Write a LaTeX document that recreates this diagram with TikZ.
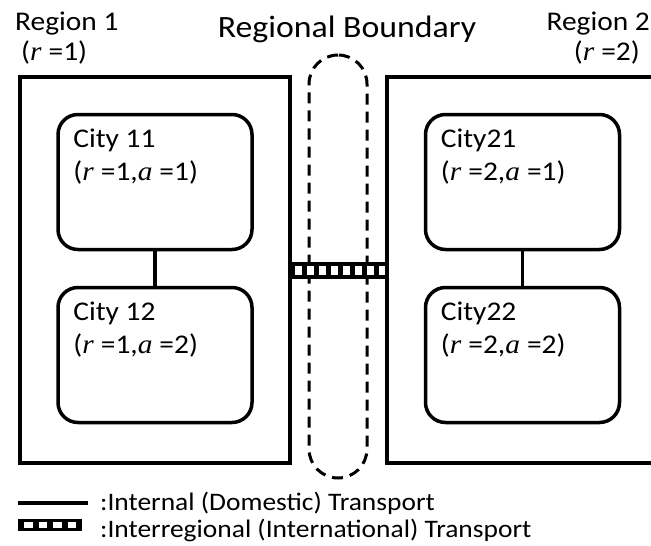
\documentclass[tikz,border=0pt]{standalone}
\usepackage{fontspec}
\setmainfont{Carlito}[FakeStretch=1.09]
\newfontfamily\varit{Liberation Serif Italic}[FakeStretch=1.09]
\usetikzlibrary{positioning}
\newcommand{\rv}{{\varit r}\hspace{0.26em}}
\newcommand{\av}{{\varit a}\hspace{0.26em}}

\begin{document}
\begin{tikzpicture}[x=1pt,y=-1pt,
    regionbox/.style={draw, line width=4pt, minimum height=386pt, inner sep=0pt},
    citybox/.style={draw, line width=3.5pt, rounded corners=20pt, minimum width=194pt, minimum height=135pt, inner sep=0pt},
    boundary/.style={draw, line width=3pt, dash pattern=on 11pt off 7pt, rounded corners=29pt, minimum width=58pt, minimum height=423pt, inner sep=0pt},
    domlink/.style={line width=3.5pt},
    interlink/.style={line width=17pt, postaction={draw, white, line width=9pt, dash pattern=on 7pt off 5pt, dash phase=9pt}},
    keylink/.style={line width=12pt, postaction={draw, white, line width=6pt, dash pattern=on 8.5pt off 6pt, dash phase=8.5pt}},
    regiontext/.style={font=\fontsize{27}{30}\selectfont, inner sep=0pt},
    citytext/.style={font=\fontsize{27}{33}\selectfont, inner sep=0pt, align=left},
    keytext/.style={font=\fontsize{25.2}{27}\selectfont, inner sep=0pt, anchor=base west}]
    \useasboundingbox (0,0) rectangle (651,546);
    \clip (0,0) rectangle (651,546);
    % regions and the boundary between them
    \node[boundary] (bd) at (338,266.5) {};
    \node[regionbox, minimum width=270pt] (reg1) at (155,270) {};
    \node[regionbox, minimum width=293.5pt] (reg2) at (533.25,270) {};
    \node[regiontext, align=left, anchor=north west] (reg1lab) at (15,12) {Region 1\\\hspace*{6pt}(\rv=1)};
    \node[regiontext, align=right, anchor=north east] (reg2lab) at (650,12) {Region 2\\(\rv=2)\hspace*{10pt}};
    \node[font=\fontsize{31}{34}\selectfont, inner sep=0pt, anchor=base] (bdlab) at (347,37) {Regional Boundary};
    % cities
    \node[citybox] (c11) at (155,182) {};
    \node[citybox] (c12) at (155,355) {};
    \node[citybox] (c21) at (522.5,182) {};
    \node[citybox] (c22) at (522.5,355) {};
    \node[citytext, below right=16pt and 17pt of c11.north west] (c11lab) {City 11\\(\rv=1,\av=1)};
    \node[citytext, below right=16pt and 17pt of c12.north west] (c12lab) {City 12\\(\rv=1,\av=2)};
    \node[citytext, below right=16pt and 17pt of c21.north west] (c21lab) {City21\\(\rv=2,\av=1)};
    \node[citytext, below right=16pt and 17pt of c22.north west] (c22lab) {City22\\(\rv=2,\av=2)};
    % transport links
    \draw[domlink] (c11) -- (c12);
    \draw[domlink] (c21) -- (c22);
    \draw[interlink] (reg1) -- (reg2);
    % legend
    \coordinate (k1a) at (18,503);
    \coordinate (k1b) at (88,503);
    \coordinate (k2a) at (18,524.5);
    \coordinate (k2b) at (82,524.5);
    \draw[domlink] (k1a) -- (k1b);
    \draw[keylink] (k2a) -- (k2b);
    \node[keytext] (k1lab) at (100,510) {:Internal (Domestic) Transport};
    \node[keytext] (k2lab) at (100,537) {:Interregional (International) Transport};
\end{tikzpicture}
\end{document}
